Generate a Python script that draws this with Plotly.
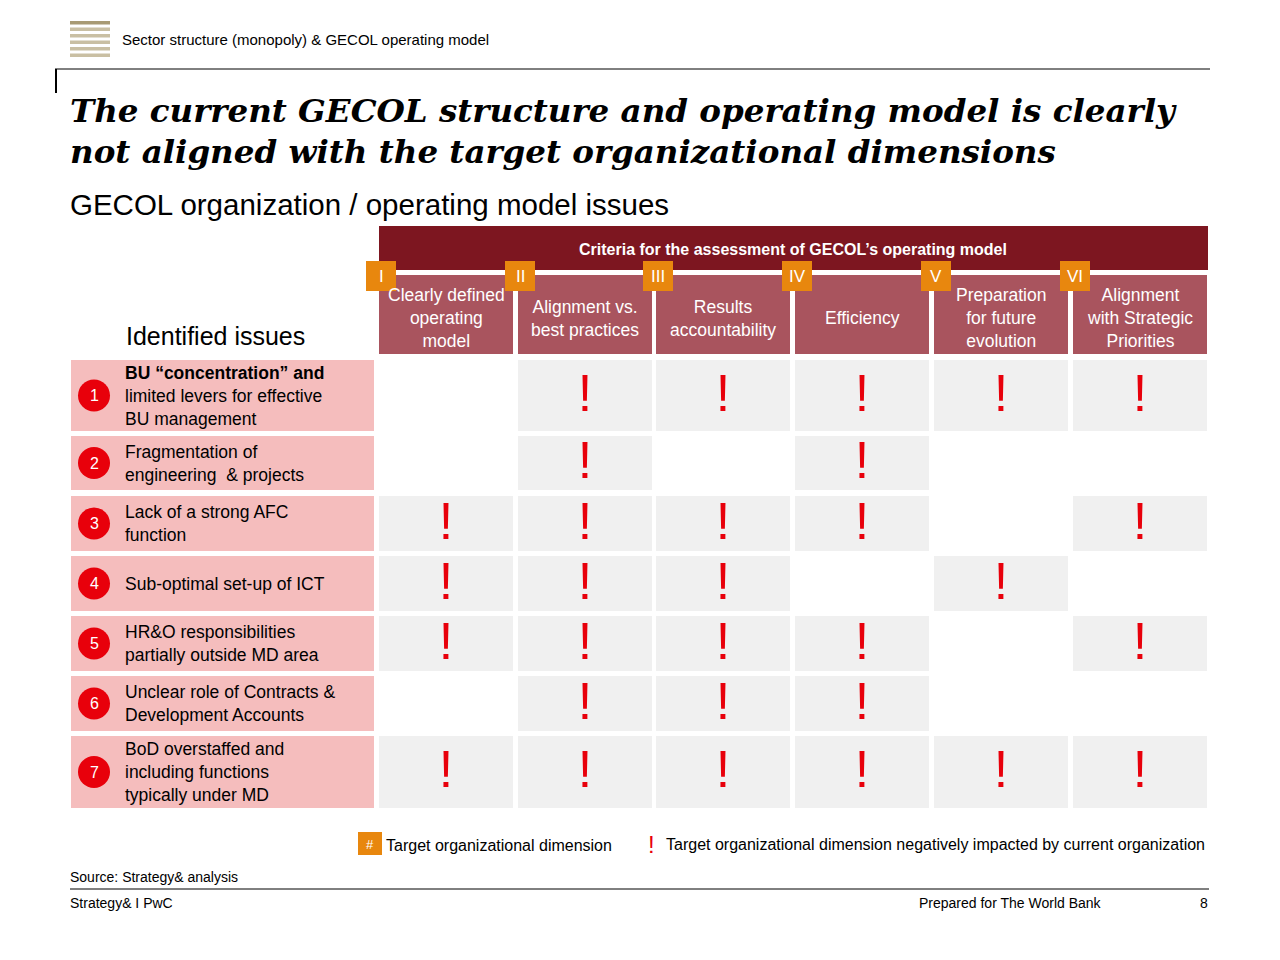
import plotly.graph_objects as go

# slide content
criteria = [
    "Clearly defined<br>operating<br>model",
    "Alignment vs.<br>best practices",
    "Results<br>accountability",
    "Efficiency",
    "Preparation<br>for future<br>evolution",
    "Alignment<br>with Strategic<br>Priorities",
]
numerals = ["I", "II", "III", "IV", "V", "VI"]
issues = [
    "<b>BU “concentration” and</b><br>limited levers for effective<br>BU management",
    "Fragmentation of<br>engineering  & projects",
    "Lack of a strong AFC<br>function",
    "Sub-optimal set-up of ICT",
    "HR&O responsibilities<br>partially outside MD area",
    "Unclear role of Contracts &<br>Development Accounts",
    "BoD overstaffed and<br>including functions<br>typically under MD",
]
impact = [
    [0, 1, 1, 1, 1, 1],
    [0, 1, 0, 1, 0, 0],
    [1, 1, 1, 1, 0, 1],
    [1, 1, 1, 0, 1, 0],
    [1, 1, 1, 1, 0, 1],
    [0, 1, 1, 1, 0, 0],
    [1, 1, 1, 1, 1, 1],
]

# geometry (pixel coords)
col_x0 = [379, 518, 656, 795, 934, 1073]
col_w = 134
row_y = [(360, 431), (436, 490), (496, 551), (556, 611), (616, 671), (676, 731), (736, 808)]

SANS = "Liberation Sans, Arial, sans-serif"
RED = "#E8000B"

fig = go.Figure()
shapes = []
ann = []

def txt(x, y, s, size, color="black", xanchor="left", family=SANS, align="left"):
    ann.append(dict(x=x, y=y, text=s, showarrow=False, xanchor=xanchor, yanchor="middle",
                    align=align, font=dict(size=size, color=color, family=family)))

def rect(x0, y0, x1, y1, color):
    shapes.append(dict(type="rect", x0=x0, y0=y0, x1=x1, y1=y1, fillcolor=color,
                       line=dict(width=0), layer="below"))

# top header
for i in range(6):
    y = 21 + i * 6.5
    rect(70, y, 110, y + 3.5, "#C9BFA3" if i else "#A89A74")
txt(120, 39, "Sector structure (monopoly) & GECOL operating model", 15)
shapes.append(dict(type="line", x0=55, y0=69, x1=1210, y1=69, line=dict(color="black", width=1)))
shapes.append(dict(type="line", x0=56, y0=69, x1=56, y1=93, line=dict(color="black", width=2)))

txt(68, 110, "<b><i>The current GECOL structure and operating model is clearly</i></b>", 32.5,
    family="DejaVu Serif, Georgia, serif")
txt(68, 151, "<b><i>not aligned with the target organizational dimensions</i></b>", 32.5,
    family="DejaVu Serif, Georgia, serif")
txt(68, 204, "GECOL organization / operating model issues", 29.5)

# criteria band
rect(379, 226, 1208, 270, "#7D1620")
txt(793, 249, "<b>Criteria for the assessment of GECOL’s operating model</b>", 16, "white", "center")
for c in range(6):
    x0 = col_x0[c]
    rect(x0, 275, x0 + col_w, 354, "#A9545E")
    txt(x0 + col_w / 2, 318, criteria[c], 17.5, "white", "center", align="center")
for c in range(6):
    x0 = col_x0[c]
    shapes.append(dict(type="rect", x0=x0 - 13, y0=261, x1=x0 + 17, y1=291,
                       fillcolor="#E8870E", line=dict(width=0), layer="above"))
    txt(x0 + 2, 276, numerals[c], 17, "white", "center")

txt(124, 336, "Identified issues", 25)

# issue rows and matrix
ex_x, ex_y = [], []
for r, (y0, y1) in enumerate(row_y):
    rect(71, y0, 374, y1, "#F5BDBD")
    ym = (y0 + y1) / 2
    shapes.append(dict(type="circle", x0=78, y0=ym - 16, x1=110, y1=ym + 16,
                       fillcolor=RED, line=dict(width=0)))
    txt(94, ym, str(r + 1), 16, "white", "center")
    txt(123, ym, issues[r], 17.5)
    for c in range(6):
        if impact[r][c]:
            rect(col_x0[c], y0, col_x0[c] + col_w, y1, "#F0F0F0")
            ex_x.append(col_x0[c] + col_w / 2)
            ex_y.append(ym + 2)

fig.add_trace(go.Scatter(x=ex_x, y=ex_y, mode="text", text=["!"] * len(ex_x),
                         textfont=dict(size=52, color=RED, family=SANS), hoverinfo="skip"))

# legend
shapes.append(dict(type="rect", x0=358, y0=832, x1=382, y1=855, fillcolor="#E8870E", line=dict(width=0)))
txt(370, 844, "#", 13, "white", "center")
txt(384, 845, "Target organizational dimension", 16)
txt(651, 844, "!", 24, RED, "center")
txt(664, 844, "Target organizational dimension negatively impacted by current organization", 16)

# footer
txt(68, 877, "Source: Strategy& analysis", 14)
shapes.append(dict(type="line", x0=70, y0=889, x1=1209, y1=889, line=dict(color="black", width=1)))
txt(68, 903, "Strategy& I PwC", 14)
txt(917, 903, "Prepared for The World Bank", 14)
txt(1210, 903, "8", 14, xanchor="right")

# ranges offset by the 8px page margin so pixel coords land where intended
fig.update_layout(
    width=1280, height=960, margin=dict(l=0, r=0, t=0, b=0),
    paper_bgcolor="white", plot_bgcolor="white", showlegend=False,
    xaxis=dict(range=[8, 1288], visible=False, fixedrange=True),
    yaxis=dict(range=[968, 8], visible=False, fixedrange=True),
    shapes=shapes, annotations=ann,
)
fig.write_html("out.html")
